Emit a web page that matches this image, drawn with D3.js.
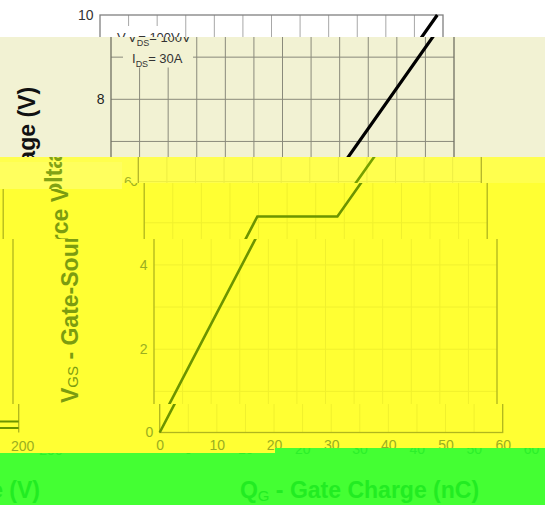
<!DOCTYPE html>
<html>
<head>
<meta charset="utf-8">
<script src="https://cdn.jsdelivr.net/npm/d3@7"></script>
<style>
  html, body { margin: 0; padding: 0; background: #fff; }
  svg { display: block; font-family: "Liberation Sans", Arial, sans-serif; }
</style>
</head>
<body>
<svg id="chart" width="545" height="505"></svg>
<script>
// Gate charge characteristic: V_GS against Q_G
const chargeTicks = [0, 10, 20, 30, 40, 50, 60];          // nC
const voltageTicks = [0, 2, 4, 6, 8, 10];                 // V
const gateCharge = [0, 19.8, 33.8, 59.0];                 // nC
const gateVoltage = [0, 5.15, 5.15, 10];                  // V
const conditionLines = [
  { main: "V", sub: "DS", rest: "= 100V" },
  { main: "I", sub: "DS", rest: "= 30A" }
];
const neighbourTickLabels = ["200"];

const W = 545, H = 505;
const x = d3.scaleLinear().domain([0, 60]).range([100, 443]);
const y = d3.scaleLinear().domain([0, 10]).range([436.5, 15]);

// colour sets for each horizontal band of the page
const palettes = {
  white:  { bg: "#ffffff", grid: "#a8a8a8", frame: "#808080", curve: "#000000", tick: "#333333", title: "#1a1a1a", note: "#333333" },
  beige:  { bg: "#f2f2d3", grid: "#8a8a7b", frame: "#707063", curve: "#000000", tick: "#222222", title: "#111111", note: "#333333" },
  pale:   { bg: "#ffff4e", grid: "#eded44", frame: "#b3b52a", curve: "#76a000", tick: "#a4b426", title: "#82a214", note: "#9cae24" },
  paler:  { bg: "#ffff5e", grid: "#eded52", frame: "#b3b52a", curve: "#76a000", tick: "#a4b426", title: "#82a214", note: "#9cae24" },
  yellow: { bg: "#ffff33", grid: "#f0f02e", frame: "#b0b61e", curve: "#6c9400", tick: "#9aae20", title: "#7c9c10", note: "#9aae20" },
  green:  { bg: "#44ff33", grid: "#44ff33", frame: "#2cf02a", curve: "#22ee22", tick: "#2cf02a", title: "#22ec22", note: "#22ee22" }
};

// each band: clipped page region, its horizontal/vertical shift and colours
const bands = [
  { rects: [[0, 0, 545, 37]],                          dx: 0,  dy: 0,  pal: "white" },
  { rects: [[0, 37, 545, 157]],                        dx: 11, dy: 0,  pal: "beige" },
  { rects: [[122, 157, 545, 183], [0, 157, 122, 162]], dx: 38.3, dy: -2, pal: "pale" },
  { rects: [[0, 162, 122, 189]],                       dx: 38.3, dy: 5, pal: "paler" },
  { rects: [[122, 183, 545, 239], [0, 189, 122, 239]], dx: 44.2, dy: -3, pal: "yellow" },
  { rects: [[0, 239, 545, 404]],                       dx: 54, dy: -3, pal: "yellow" },
  { rects: [[0, 404, 275, 453], [275, 404, 545, 448]], dx: 59.7, dy: -4, pal: "yellow" },
  { rects: [[0, 453, 275, 505], [275, 448, 545, 505]], dx: 88, dy: 0,  pal: "green" }
];

const svg = d3.select("#chart");
const defs = svg.append("defs");

function drawPanel(g, p) {
  const [x0, x1] = x.range();
  const [yb, yt] = y.range();

  // grid
  g.append("g")
    .selectAll("line.v")
    .data(d3.range(5, 60, 5))
    .join("line")
    .attr("x1", d => x(d)).attr("x2", d => x(d))
    .attr("y1", yt).attr("y2", yb)
    .attr("stroke", p.grid).attr("stroke-width", 1);
  g.append("g")
    .selectAll("line.h")
    .data(d3.range(1, 10, 1))
    .join("line")
    .attr("x1", x0).attr("x2", x1)
    .attr("y1", d => y(d)).attr("y2", d => y(d))
    .attr("stroke", p.grid).attr("stroke-width", 1);

  // test-condition note with its own background
  g.append("rect")
    .attr("x", 112).attr("y", 26).attr("width", 70).attr("height", 41.5)
    .attr("fill", p.bg);
  const note = g.append("g").attr("font-size", 13).attr("fill", p.note);
  const noteX = [117, 121], noteY = [42, 63];
  conditionLines.forEach((c, i) => {
    const t = note.append("text").attr("x", noteX[i]).attr("y", noteY[i]);
    t.append("tspan").text(c.main);
    t.append("tspan").attr("font-size", 9).attr("dy", 3.5).text(c.sub);
    t.append("tspan").attr("dy", -3.5).text(c.rest);
  });

  // frame
  g.append("rect")
    .attr("x", x0).attr("y", yt).attr("width", x1 - x0).attr("height", yb - yt)
    .attr("fill", "none").attr("stroke", p.frame).attr("stroke-width", 1.3);

  // axes (labels only)
  const ya = g.append("g").attr("transform", `translate(${x0},0)`)
    .call(d3.axisLeft(y).tickValues(voltageTicks).tickSize(0).tickPadding(6.5).tickFormat(d3.format("d")));
  const xa = g.append("g").attr("transform", `translate(0,${yb})`)
    .call(d3.axisBottom(x).tickValues(chargeTicks).tickSize(0).tickPadding(8).tickFormat(d3.format("d")));
  [ya, xa].forEach(a => {
    a.select(".domain").remove();
    a.attr("font-family", null).attr("font-size", null);
    a.selectAll("text").attr("font-size", 14).attr("fill", p.tick);
  });

  // gate charge curve
  const line = d3.line().x((d, i) => x(gateCharge[i])).y(d => y(d));
  g.append("path")
    .datum(gateVoltage)
    .attr("d", line)
    .attr("fill", "none")
    .attr("stroke", p.curve)
    .attr("stroke-width", p === palettes.white || p === palettes.beige ? 3.2 : 2.6)
    .attr("stroke-linejoin", "miter");

  // axis titles
  const yt1 = g.append("text")
    .attr("transform", "translate(24,406) rotate(-90)")
    .attr("font-size", 23).attr("font-weight", "bold").attr("fill", p.title);
  yt1.append("tspan").text("V");
  yt1.append("tspan").attr("font-size", 15).attr("font-weight", "normal").text("GS");
  yt1.append("tspan").text(" - Gate-Source Voltage (V)");

  const xt = g.append("text")
    .attr("x", (x0 + x1) / 2).attr("y", 498)
    .attr("text-anchor", "middle")
    .attr("font-size", 23).attr("font-weight", "bold").attr("fill", p.title);
  xt.append("tspan").text("Q");
  xt.append("tspan").attr("font-size", 15).attr("font-weight", "normal").attr("dy", 3).text("G");
  xt.append("tspan").attr("dy", -3).text(" - Gate Charge (nC)");

  // right edge of the neighbouring capacitance panel
  const nx = -41;
  g.append("line")
    .attr("x1", nx).attr("x2", nx).attr("y1", yt).attr("y2", yb)
    .attr("stroke", p.frame).attr("stroke-width", 1.3);
  g.append("g").selectAll("line")
    .data([425.5, 432])
    .join("line")
    .attr("x1", nx - 60).attr("x2", nx)
    .attr("y1", d => d).attr("y2", d => d)
    .attr("stroke", p.curve).attr("stroke-width", 2);
  g.append("g").selectAll("text")
    .data(neighbourTickLabels)
    .join("text")
    .attr("x", nx + 4).attr("y", yb + 18)
    .attr("text-anchor", "middle").attr("font-size", 14).attr("fill", p.tick)
    .text(d => d);
  const nt = g.append("text")
    .attr("x", -48).attr("y", 498).attr("text-anchor", "end")
    .attr("font-size", 23).attr("font-weight", "bold").attr("fill", p.title);
  nt.append("tspan").text("V");
  nt.append("tspan").attr("font-size", 15).attr("font-weight", "normal").attr("dy", 3).text("DS");
  nt.append("tspan").attr("dy", -3).text(" - Drain-Source Voltage (V)");
}

bands.forEach((b, i) => {
  const cp = defs.append("clipPath").attr("id", "band" + i);
  b.rects.forEach(r => cp.append("rect")
    .attr("x", r[0]).attr("y", r[1]).attr("width", r[2] - r[0]).attr("height", r[3] - r[1]));
  const p = palettes[b.pal];
  const band = svg.append("g").attr("clip-path", `url(#band${i})`);
  band.append("rect").attr("width", W).attr("height", H).attr("fill", p.bg);
  drawPanel(band.append("g").attr("transform", `translate(${b.dx},${b.dy})`), p);
});
</script>
</body>
</html>
